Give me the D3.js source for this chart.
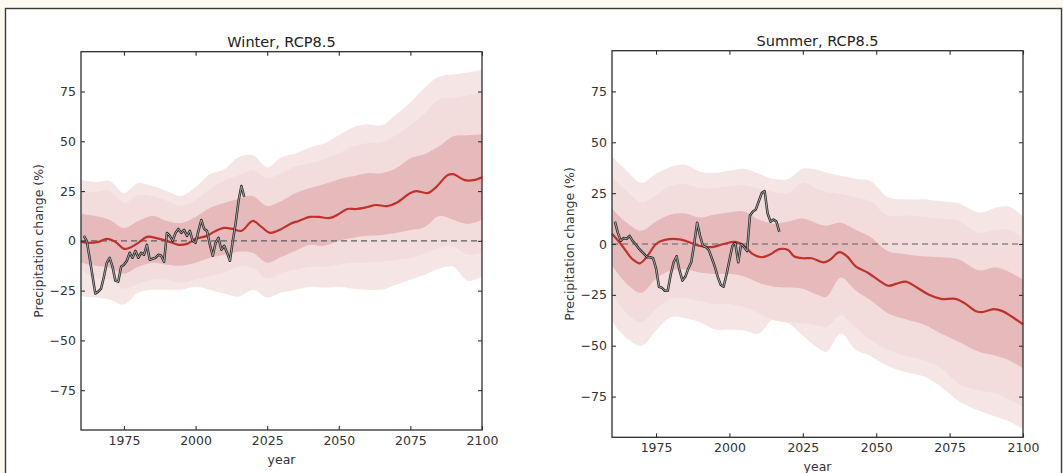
<!DOCTYPE html>
<html>
<head>
<meta charset="utf-8">
<script src="https://cdn.jsdelivr.net/npm/d3@7"></script>
<style>
  body { margin: 0; background: #fdf9ef; }
  svg { display: block; font-family: 'DejaVu Sans', sans-serif; }
</style>
</head>
<body>
<svg id="chart" width="1063" height="473"></svg>
<script>
// ---- data ----
const xTicks = [1975, 2000, 2025, 2050, 2075, 2100];
const yTicks = [-75, -50, -25, 0, 25, 50, 75];

const winterYears = [1960, 1965, 1970, 1975, 1980, 1985, 1990, 1995, 2000, 2005, 2010, 2015, 2020, 2025, 2030,
  2035, 2040, 2045, 2050, 2055, 2060, 2065, 2070, 2075, 2080, 2085, 2090, 2095, 2100];
const winterOuterHi = [30.5, 29.5, 30, 24, 29, 27.5, 25, 22.5, 27, 33.5, 36, 42, 43, 37, 42, 44, 47, 49, 53, 57, 58.5, 58, 63.5, 69.5, 77, 82.5, 83.5, 84.5, 86];
const winterMidHi = [25, 24.5, 25, 19, 23, 22.5, 20, 17.5, 20.5, 26, 30, 33, 35.5, 31.5, 34, 37.5, 39, 41, 44, 47.5, 49, 49.5, 53, 58, 64, 71, 72, 73, 74.5];
const winterInnerHi = [13.5, 12.5, 10.5, 6.5, 10, 12.5, 10, 9, 12, 16.5, 19, 21, 22.5, 17.5, 20, 24, 26.5, 28.5, 31, 32.5, 34, 34, 36.5, 41.5, 43.5, 47.5, 52.5, 53, 53.5];
const winterInnerLo = [-11, -12.5, -13.5, -16.5, -13, -11, -12, -12.5, -11, -8.5, -7, -5.5, -6, -11, -8, -5, -2, -2.5, 0, 1.5, 2.5, 3, 4, 5.5, 7, 12.5, 10.5, 8.5, 10.5];
const winterMidLo = [-14.5, -18.5, -19.5, -24, -21.5, -19.5, -19.5, -21, -19.5, -17.5, -16, -13, -13.5, -19, -16, -14.5, -13, -13, -12, -11, -11, -10.5, -9.5, -8.5, -6.5, -3.5, -3, -7, -6];
const winterOuterLo = [-28, -28.5, -29.5, -32, -26, -24.5, -24.5, -24.5, -23, -24.5, -26.5, -28, -24.5, -28.5, -26, -24.5, -23, -23.5, -23, -24, -24.5, -24.5, -22, -19.5, -17, -14, -13, -20, -18];

const winterMedianYears = [1960, 1963, 1966, 1969, 1972, 1975, 1977, 1980, 1983, 1986, 1990, 1994, 1997, 2000, 2004,
  2007, 2010, 2013, 2016, 2020, 2023, 2026, 2030, 2033, 2036, 2040, 2043, 2047, 2050, 2053, 2056, 2060, 2063, 2067,
  2070, 2075, 2077, 2081, 2084, 2088, 2090, 2094, 2097, 2100];
const winterMedian = [-0.5, -1, -0.5, 1, -0.5, -4, -3.5, -1, 2, 1.5, 0, -2, -1.5, 1, 2.5, 5, 6.5, 6, 5, 10, 7, 4, 6,
  8.5, 10, 12, 12, 11.5, 13.5, 16, 16, 17, 18, 17.5, 19, 24, 25, 24, 27, 33, 33.5, 30.5, 30.5, 32];

const summerYears = [1960, 1965, 1970, 1975, 1980, 1985, 1990, 1995, 2000, 2005, 2010, 2015, 2020, 2025, 2030,
  2033, 2038, 2043, 2048, 2054, 2060, 2066, 2072, 2078, 2085, 2091, 2095, 2100];
const summerOuterHi = [43, 36, 30, 34.5, 38, 39, 35.5, 35, 36, 37, 34.5, 32, 32, 37, 36.5, 35, 33.5, 32, 31, 23, 22, 22, 21, 20, 15.5, 18, 18.5, 13.5];
const summerMidHi = [33, 26, 20.5, 24, 28.5, 29.5, 27.5, 27.5, 28.5, 29, 27, 25.5, 25, 30, 27, 25.5, 24.5, 23, 21, 14, 14, 13.5, 12.5, 11.3, 5.5, 7, 7, 3];
const summerInnerHi = [17.5, 10.5, 6.5, 11, 14.5, 15, 13, 14.5, 15.5, 16, 12, 10, 11, 12.5, 10, 9, 10.5, 7, 3.5, -3.5, -5, -6, -6.5, -7.5, -13, -11.5, -13.5, -17.5];
const summerInnerLo = [-10.5, -19.5, -24, -17, -13, -12.5, -14, -14.8, -14.8, -16, -19, -21, -21.4, -22, -25, -26, -16.5, -23, -27.5, -34, -37, -39.5, -44, -48, -53, -55, -57, -61];
const summerMidLo = [-24.5, -34, -38.5, -32, -27, -26.5, -28, -29.5, -29.5, -31, -34, -37.5, -38.5, -39, -40, -41, -35, -41, -47, -52, -55, -57, -61, -68.5, -72, -73.5, -76, -80];
const summerOuterLo = [-38, -46.5, -50, -42.5, -36, -36.5, -38.5, -42, -42, -42.5, -44, -37, -39, -45, -51, -53, -44, -52, -55, -60, -63, -65, -70, -77, -82, -85, -87, -91];

const summerMedianYears = [1960, 1963, 1967, 1969.5, 1972, 1975, 1978, 1983, 1987, 1990, 1994, 1998, 2002, 2005,
  2008, 2011, 2014, 2017, 2020, 2022, 2025, 2028, 2032, 2034, 2037.5, 2040, 2043, 2047, 2051, 2054, 2057, 2060,
  2064, 2068, 2072, 2077, 2080, 2084, 2086, 2090, 2093, 2096, 2100];
const summerMedian = [5, 0, -7.5, -9.5, -6, 0, 2, 2.3, 0.5, -1, -1.5, 0, 1, -1, -5, -6.5, -5, -2.5, -3, -6, -7, -7,
  -9, -8, -4, -6, -11, -14, -18, -20.5, -19.5, -18.5, -21.5, -25, -27, -27, -29, -33, -33.5, -32, -33, -35.5, -39.5];

const obsYears = [1961, 1962, 1963, 1964, 1965, 1966, 1967, 1968, 1969, 1970, 1971, 1972, 1973, 1974, 1975, 1976,
  1977, 1978, 1979, 1980, 1981, 1982, 1983, 1984, 1985, 1986, 1987, 1988, 1989, 1990, 1991, 1992, 1993, 1994, 1995,
  1996, 1997, 1998, 1999, 2000, 2001, 2002, 2003, 2004, 2005, 2006, 2007, 2008, 2009, 2010, 2011, 2012, 2013, 2014,
  2015, 2016, 2017];
const winterObs = [2.5, 0, -8.5, -17.5, -26.5, -25.5, -24, -18, -11, -8.5, -13, -20, -20.5, -13, -12, -10, -6, -8.5,
  -5, -8.5, -6, -7, -2, -9.5, -9, -8.5, -7, -7.5, -10.5, 4, 2.5, 0, 4, 6, 4, 5.5, 2.5, 5, 0, -1, 5, 10.5, 6, 5, -2,
  -7.5, -1, 1.5, -4.5, -2.5, -6, -10, 0, 9, 20, 27.5, 22];
const summerObs = [11, 5.5, 1.5, 3, 2.5, 4, 1.5, 0, -2, -3.5, -5, -6.5, -6.5, -7, -12, -21, -21.5, -23, -23, -15, -9,
  -6, -13, -18, -16, -12, -9, 0, 10.5, 4, -1, -1.5, -3, -7, -11, -16, -20, -21, -15, -8, -1, 0.5, -9, 0, -1.5, -3.5,
  14, 16, 17, 21, 25, 26, 15, 11, 12, 11, 6];

// ---- layout ----
const svg = d3.select('#chart');

svg.append('rect')
  .attr('x', 5.5).attr('y', 8.5)
  .attr('width', 1056).attr('height', 480)
  .attr('fill', '#fff')
  .attr('stroke', '#3a3a3a')
  .attr('stroke-width', 1.4);

const panels = [
  {
    title: 'Winter, RCP8.5', left: 81, right: 482, top: 51.7, bottom: 430,
    years: winterYears, outerHi: winterOuterHi, midHi: winterMidHi, innerHi: winterInnerHi,
    innerLo: winterInnerLo, midLo: winterMidLo, outerLo: winterOuterLo,
    medYears: winterMedianYears, med: winterMedian, obs: winterObs
  },
  {
    title: 'Summer, RCP8.5', left: 612, right: 1023, top: 50.7, bottom: 437.3,
    years: summerYears, outerHi: summerOuterHi, midHi: summerMidHi, innerHi: summerInnerHi,
    innerLo: summerInnerLo, midLo: summerMidLo, outerLo: summerOuterLo,
    medYears: summerMedianYears, med: summerMedian, obs: summerObs
  }
];

panels.forEach((p) => {
  const x = d3.scaleLinear().domain([1960, 2100]).range([p.left, p.right]);
  const y = d3.scaleLinear().domain([-95, 95]).range([p.bottom, p.top]);
  const g = svg.append('g');

  const band = (hi, lo) => d3.area()
    .x((d, i) => x(p.years[i]))
    .y0((d, i) => y(lo[i]))
    .y1((d) => y(d))
    .curve(d3.curveCatmullRom.alpha(0.5))(hi);

  g.append('path').attr('d', band(p.outerHi, p.outerLo)).attr('fill', '#f6e5e5');
  g.append('path').attr('d', band(p.midHi, p.midLo)).attr('fill', '#f2dcdc');
  g.append('path').attr('d', band(p.innerHi, p.innerLo)).attr('fill', '#e6baba');

  g.append('line')
    .attr('x1', x(1960)).attr('x2', x(2100))
    .attr('y1', y(0)).attr('y2', y(0))
    .attr('stroke', '#5e5e5e')
    .attr('stroke-width', 1.2)
    .attr('stroke-dasharray', '6,4');

  const medLine = d3.line()
    .x((d, i) => x(p.medYears[i]))
    .y((d) => y(d))
    .curve(d3.curveCatmullRom.alpha(0.5));
  g.append('path')
    .attr('d', medLine(p.med))
    .attr('fill', 'none')
    .attr('stroke', '#c0312d')
    .attr('stroke-width', 2.2);

  // observed series: dark edges with a grey core
  const obsLine = d3.line()
    .x((d, i) => x(obsYears[i]))
    .y((d) => y(d));
  g.append('path')
    .attr('d', obsLine(p.obs))
    .attr('fill', 'none')
    .attr('stroke', '#2a2a2a')
    .attr('stroke-width', 2.5)
    .attr('stroke-linejoin', 'round');
  g.append('path')
    .attr('d', obsLine(p.obs))
    .attr('fill', 'none')
    .attr('stroke', '#b0b0b0')
    .attr('stroke-width', 0.9)
    .attr('stroke-linejoin', 'round');

  // axes, ticks pointing inward on all four sides
  const bottomAx = g.append('g')
    .attr('transform', `translate(0,${p.bottom})`)
    .call(d3.axisBottom(x).tickValues(xTicks).tickSize(-4).tickPadding(6).tickFormat(d3.format('d')));
  const topAx = g.append('g')
    .attr('transform', `translate(0,${p.top})`)
    .call(d3.axisTop(x).tickValues(xTicks).tickSize(-4).tickFormat(''));
  const leftAx = g.append('g')
    .attr('transform', `translate(${p.left},0)`)
    .call(d3.axisLeft(y).tickValues(yTicks).tickSize(-4).tickPadding(5).tickFormat(d3.format('d')));
  const rightAx = g.append('g')
    .attr('transform', `translate(${p.right},0)`)
    .call(d3.axisRight(y).tickValues(yTicks).tickSize(-4).tickFormat(''));

  [bottomAx, topAx, leftAx, rightAx].forEach((a) => {
    a.select('.domain').remove();
    a.selectAll('line').attr('stroke', '#333').attr('stroke-width', 1.1);
    a.selectAll('text')
      .attr('fill', '#333')
      .style('font-size', '12.5px')
      .style('font-family', "'DejaVu Sans', sans-serif");
  });

  g.append('rect')
    .attr('x', p.left).attr('y', p.top)
    .attr('width', p.right - p.left).attr('height', p.bottom - p.top)
    .attr('fill', 'none')
    .attr('stroke', '#2e2e2e')
    .attr('stroke-width', 1.3);

  g.append('text')
    .attr('x', (p.left + p.right) / 2)
    .attr('y', p.top - 4.5)
    .attr('text-anchor', 'middle')
    .attr('fill', '#222')
    .style('font-size', '14.5px')
    .text(p.title);

  g.append('text')
    .attr('x', (p.left + p.right) / 2)
    .attr('y', p.bottom + 34)
    .attr('text-anchor', 'middle')
    .attr('fill', '#333')
    .style('font-size', '12.5px')
    .text('year');

  g.append('text')
    .attr('transform', `translate(${p.left - 38},${(p.top + p.bottom) / 2}) rotate(-90)`)
    .attr('text-anchor', 'middle')
    .attr('fill', '#333')
    .style('font-size', '12.5px')
    .text('Precipitation change (%)');
});
</script>
</body>
</html>
